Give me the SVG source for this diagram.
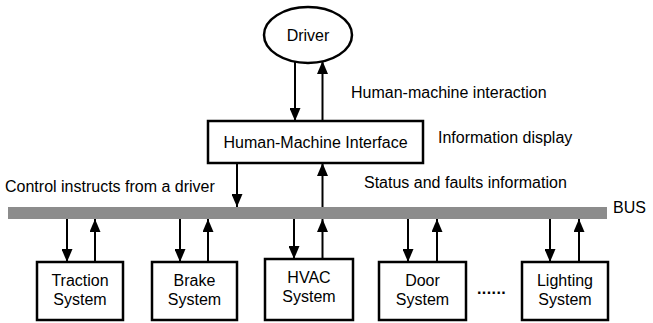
<svg xmlns="http://www.w3.org/2000/svg" width="653" height="323" viewBox="0 0 653 323">
<defs>
<marker id="ah" markerUnits="userSpaceOnUse" markerWidth="13" markerHeight="11" refX="13" refY="5.5" orient="auto">
<path d="M0,0 L13,5.5 L0,11 z" fill="#000"/>
</marker>
<style>
.t{font-family:"Liberation Sans",Arial,sans-serif;font-size:16px;fill:#000}
.c{text-anchor:middle}
.box{fill:#fff;stroke:#000;stroke-width:2.5}
.ln{stroke:#000;stroke-width:2;fill:none;marker-end:url(#ah)}
</style>
</defs>
<rect x="0" y="0" width="653" height="323" fill="#fff"/>
<g id="bus">
<rect x="8" y="207" width="599" height="12" fill="#8c8c8c"/>
<text class="t" x="613" y="213">BUS</text>
</g>
<g id="driver">
<ellipse cx="308" cy="35" rx="44" ry="28" class="box"/>
<text class="t c" x="308" y="41">Driver</text>
</g>
<g id="hmi">
<rect x="208" y="121" width="215" height="42" class="box"/>
<text class="t c" x="315.5" y="148">Human-Machine Interface</text>
</g>
<g id="traction">
<rect x="37" y="262" width="86" height="58" class="box"/>
<text class="t c" x="80" y="286">Traction</text>
<text class="t c" x="80" y="305">System</text>
</g>
<g id="brake">
<rect x="152" y="262" width="85" height="58" class="box"/>
<text class="t c" x="194.5" y="286">Brake</text>
<text class="t c" x="194.5" y="305">System</text>
</g>
<g id="hvac">
<rect x="265" y="259" width="88" height="61" class="box"/>
<text class="t c" x="309" y="283">HVAC</text>
<text class="t c" x="309" y="302">System</text>
</g>
<g id="door">
<rect x="379" y="262" width="87" height="58" class="box"/>
<text class="t c" x="422.5" y="286">Door</text>
<text class="t c" x="422.5" y="305">System</text>
</g>
<g id="lighting">
<rect x="522" y="262" width="86" height="58" class="box"/>
<text class="t c" x="565" y="286">Lighting</text>
<text class="t c" x="565" y="305">System</text>
</g>
<g id="labels">
<text class="t" x="351" y="98">Human-machine interaction</text>
<text class="t" x="438" y="143">Information display</text>
<text class="t" x="364" y="188">Status and faults information</text>
<text class="t" x="5" y="192">Control instructs from a driver</text>
<text class="t" x="477" y="294" font-weight="bold" letter-spacing="0.4">......</text>
</g>
<g id="connectors">
<line class="ln" x1="295" y1="62" x2="295" y2="121"/>
<line class="ln" x1="322.5" y1="121" x2="322.5" y2="61"/>
<line class="ln" x1="237" y1="163" x2="237" y2="207"/>
<line class="ln" x1="322.5" y1="207" x2="322.5" y2="163"/>
<line class="ln" x1="67" y1="219" x2="67" y2="262"/>
<line class="ln" x1="95" y1="262" x2="95" y2="219"/>
<line class="ln" x1="180" y1="219" x2="180" y2="262"/>
<line class="ln" x1="208" y1="262" x2="208" y2="219"/>
<line class="ln" x1="294" y1="219" x2="294" y2="259"/>
<line class="ln" x1="322.5" y1="259" x2="322.5" y2="219"/>
<line class="ln" x1="408" y1="219" x2="408" y2="262"/>
<line class="ln" x1="437" y1="262" x2="437" y2="219"/>
<line class="ln" x1="550" y1="219" x2="550" y2="262"/>
<line class="ln" x1="579" y1="262" x2="579" y2="219"/>
</g>
</svg>
